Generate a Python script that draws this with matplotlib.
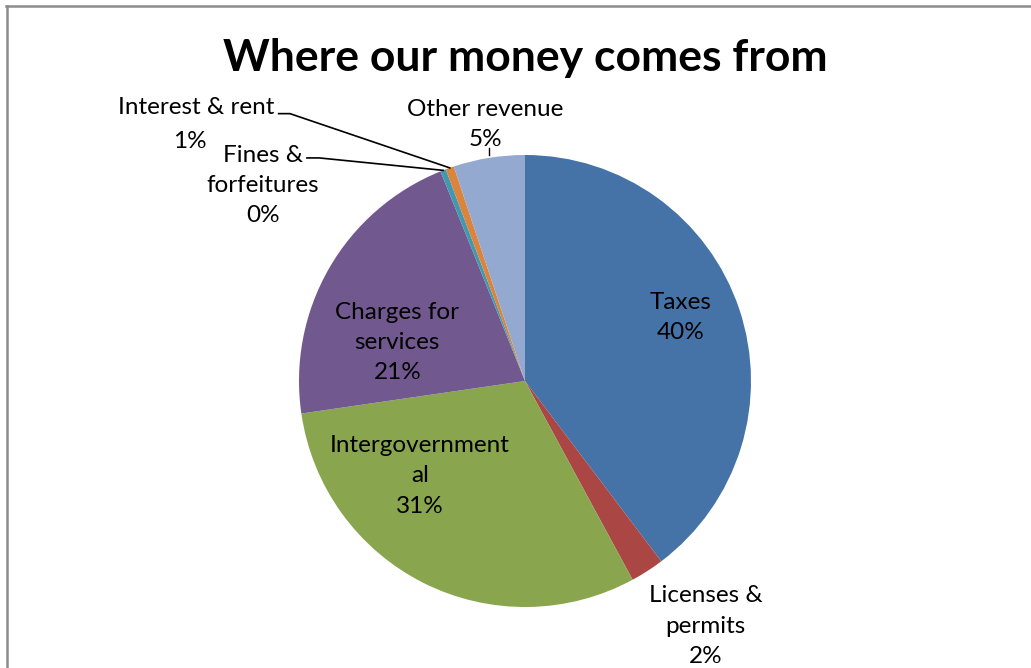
import numpy as np
import matplotlib.pyplot as plt
from matplotlib.lines import Line2D

# Revenue sources, clockwise from 12 o'clock
sources = ["Taxes", "Licenses &\npermits", "Intergovernment\nal", "Charges for\nservices",
           "Fines &\nforfeitures", "Interest & rent", "Other revenue"]
shares = [39.7, 2.4, 30.6, 21.2, 0.4, 0.6, 5.1]
colors = ["#4572A7", "#AA4643", "#89A54E", "#71588F", "#4198AF", "#DB843D", "#93A9CF"]

# where each label sits (pie radius = 1)
label_pos = [(0.69, 0.28), (0.80, -1.085), (-0.465, -0.42), (-0.565, 0.17),
             (-1.16, 0.865), (-1.456, 1.135), (-0.175, 1.135)]

plt.rcParams['font.family'] = ['Lato', 'DejaVu Sans']

W, H = 1031, 668
cx, cy, R = 525, 381, 226
fig = plt.figure(figsize=(W / 100, H / 100), dpi=100)
ax = fig.add_axes([0, 0, 1, 1])

wedges, _ = ax.pie(shares, colors=colors, startangle=90, counterclock=False,
                   radius=1, center=(0, 0), wedgeprops=dict(linewidth=0))
ax.set_xlim(-cx / R, (W - cx) / R)
ax.set_ylim(-(H - cy) / R, cy / R)
ax.set_aspect('auto')
ax.axis('off')

fs = 17.5
total = sum(shares)
for name, val, (x, y) in zip(sources, shares, label_pos):
    pct = f"{round(val / total * 100):.0f}%"
    if name == "Interest & rent":
        # percentage sits a little left, under the leader line start
        ax.text(x, y + 0.073, name, ha='center', va='center', fontsize=fs)
        ax.text(x - 0.025, y - 0.075, pct, ha='center', va='center', fontsize=fs)
        continue
    ax.text(x, y, name + "\n" + pct, ha='center', va='center', fontsize=fs,
            linespacing=1.55)

# leader lines for the thin slices
def edge_point(i, frac=0.5, r=1.0):
    start = 90 - sum(shares[:i]) / total * 360
    ang = np.deg2rad(start - shares[i] / total * 360 * frac)
    return r * np.cos(ang), r * np.sin(ang)

fx, fy = edge_point(4)
ax.plot([-0.965, -0.91, fx], [0.987, 0.987, fy], color='black', lw=1.2)
ix, iy = edge_point(5)
ax.plot([-1.09, -1.04, ix], [1.183, 1.183, iy], color='black', lw=1.2)
ox, oy = edge_point(6)
ax.plot([ox, ox], [1.0, 1.03], color='black', lw=1.0)

fig.text(cx / W, 1 - 58 / H, "Where our money comes from", ha='center', va='center',
         fontsize=32, fontweight='bold')

# chart frame (top and left edges only)
fig.add_artist(Line2D([6 / W, 1], [1 - 6 / H, 1 - 6 / H], transform=fig.transFigure,
                      color='#8c8c8c', lw=1.8))
fig.add_artist(Line2D([7 / W, 7 / W], [0, 1 - 6 / H], transform=fig.transFigure,
                      color='#8c8c8c', lw=1.8))

fig.savefig("out.png", dpi=100, facecolor='white')
